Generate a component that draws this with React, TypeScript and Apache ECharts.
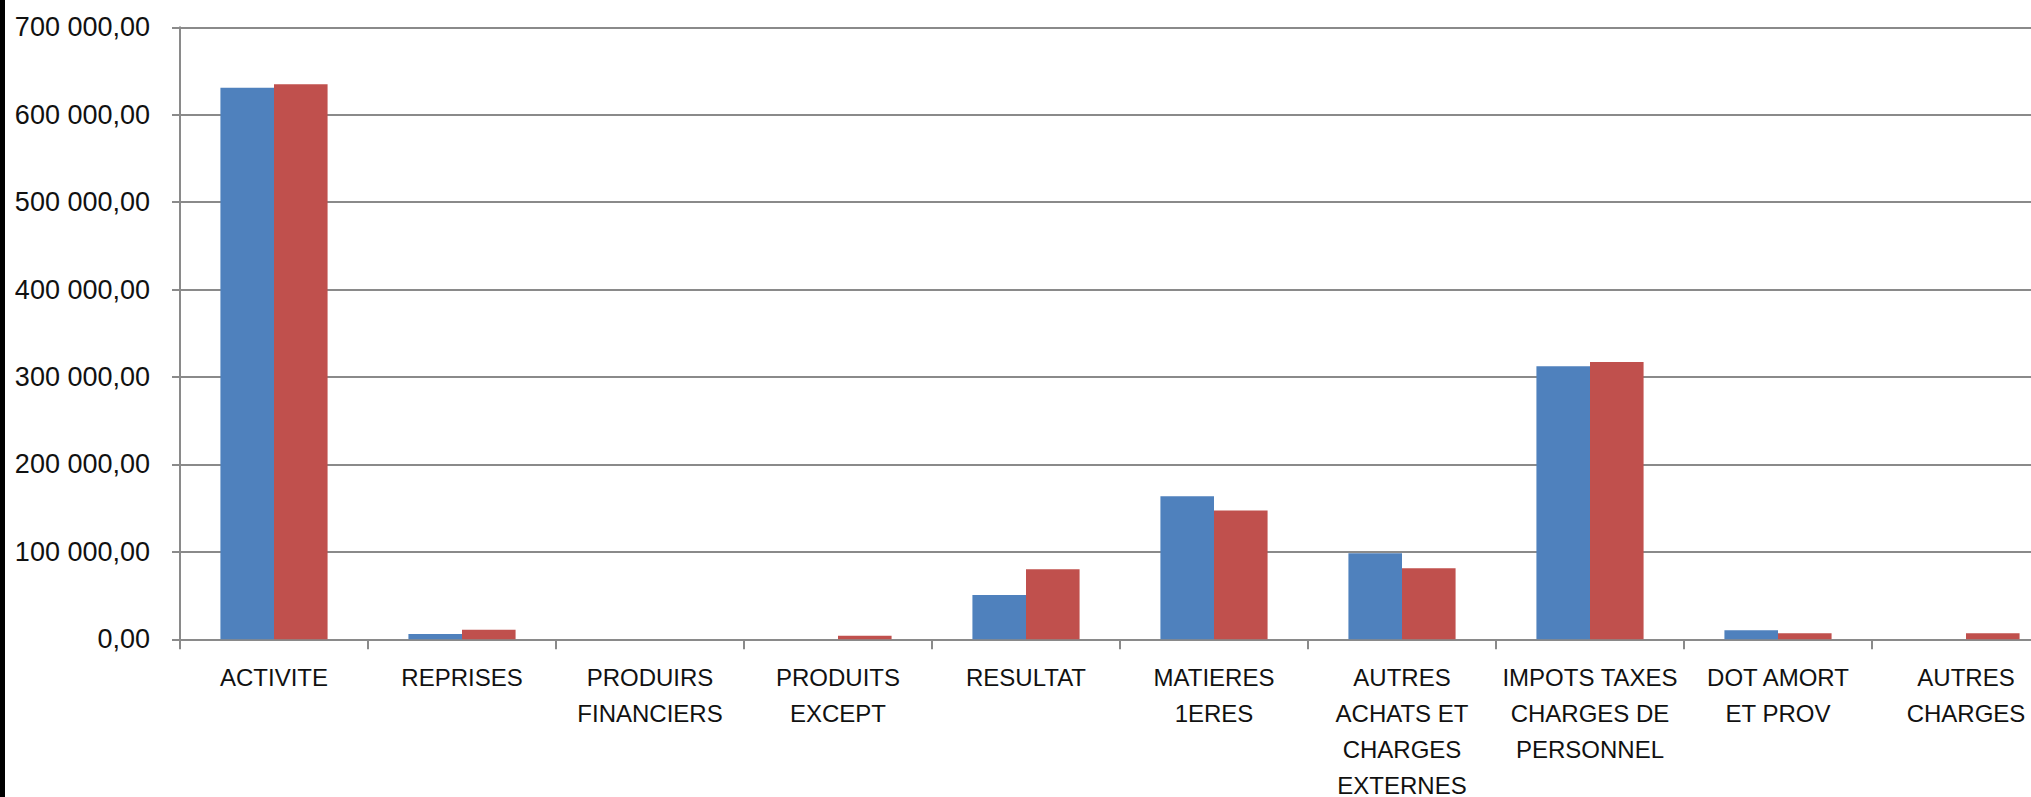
import React, { useEffect, useRef } from "react";
import * as echarts from "echarts";

const categories: string[] = [
  "ACTIVITE",
  "REPRISES",
  "PRODUIRS\nFINANCIERS",
  "PRODUITS\nEXCEPT",
  "RESULTAT",
  "MATIERES\n1ERES",
  "AUTRES\nACHATS ET\nCHARGES\nEXTERNES",
  "IMPOTS TAXES\nCHARGES DE\nPERSONNEL",
  "DOT AMORT\nET PROV",
  "AUTRES\nCHARGES",
];

const seriesBlue: number[] = [631000, 6000, 0, 0, 50800, 163500, 98500, 312400, 10300, 0];
const seriesRed: number[] = [634800, 10800, 0, 4100, 80200, 147400, 81400, 317200, 6900, 7000];

const yMin = 0;
const yMax = 700000;
const yInterval = 100000;

const formatValue = (v: number): string => {
  const int = Math.round(v).toString().replace(/\B(?=(\d{3})+(?!\d))/g, " ");
  return int + ",00";
};

const CHART_W = 2120;
const CHART_H = 797;

export default function App() {
  const ref = useRef<HTMLDivElement>(null);

  useEffect(() => {
    if (!ref.current) return;
    document.body.style.overflow = "hidden";
    const chart = echarts.init(ref.current, undefined, { renderer: "svg" });
    const font = "'Liberation Sans', Arial, sans-serif";
    const gray = "#8a8a8a";
    chart.setOption({
      animation: false,
      backgroundColor: "#ffffff",
      grid: {
        left: 180,
        top: 27.3,
        bottom: 157.7,
        right: CHART_W - 180 - 1880,
        containLabel: false,
        outerBoundsMode: "none",
      },
      xAxis: {
        type: "category",
        data: categories,
        boundaryGap: true,
        axisLine: { show: true, lineStyle: { color: gray, width: 2 } },
        axisTick: { show: true, length: 10, lineStyle: { color: gray, width: 2 } },
        axisLabel: {
          interval: 0,
          margin: 20,
          color: "#111",
          fontFamily: font,
          fontSize: 24,
          lineHeight: 36,
          align: "center",
        },
        splitLine: { show: false },
      },
      yAxis: {
        type: "value",
        min: yMin,
        max: yMax,
        interval: yInterval,
        axisLine: { show: true, lineStyle: { color: gray, width: 2 } },
        axisTick: { show: true, length: 8, lineStyle: { color: gray, width: 2 } },
        axisLabel: {
          margin: 30,
          color: "#111",
          fontFamily: font,
          fontSize: 27,
          formatter: (v: number) => formatValue(v),
        },
        splitLine: { show: true, lineStyle: { color: gray, width: 2 } },
      },
      series: [
        {
          name: "Série 1",
          type: "bar",
          data: seriesBlue,
          barGap: "0%",
          barCategoryGap: "43%",
          itemStyle: { color: "#4F81BD" },
        },
        {
          name: "Série 2",
          type: "bar",
          data: seriesRed,
          barGap: "0%",
          barCategoryGap: "43%",
          itemStyle: { color: "#C0504D" },
        },
      ],
      graphic: [
        {
          type: "rect",
          left: 0,
          top: 0,
          shape: { width: 5, height: CHART_H },
          style: { fill: "#000000" },
          z: 100,
        },
      ],
    });
    return () => {
      chart.dispose();
    };
  }, []);

  return (
    <div
      ref={ref}
      style={{ position: "fixed", left: 0, top: 0, width: CHART_W, height: CHART_H }}
    />
  );
}
